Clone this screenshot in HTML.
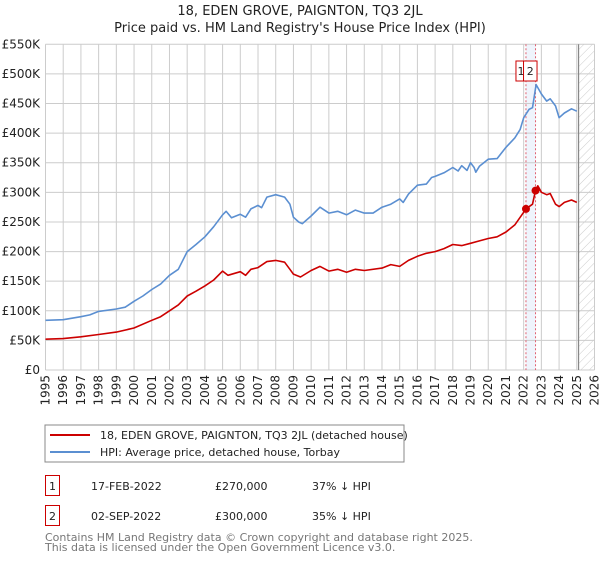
<!DOCTYPE html>
<html><head><meta charset="utf-8"><style>
body{margin:0;background:#fff;font-family:"Liberation Sans","DejaVu Sans",sans-serif;}
svg text{font-family:"DejaVu Sans","Liberation Sans",sans-serif;}
</style></head><body>
<svg id="c" width="600" height="560" viewBox="0 0 600 560" xmlns="http://www.w3.org/2000/svg">
<defs><pattern id="hatch" width="6" height="6" patternUnits="userSpaceOnUse" patternTransform="rotate(45)"><line x1="0" y1="0" x2="0" y2="6" stroke="#ccc" stroke-width="1"/></pattern></defs>
<text x="300" y="15" font-size="13" text-anchor="middle" fill="#222">18, EDEN GROVE, PAIGNTON, TQ3 2JL</text>
<text x="300" y="32" font-size="13" text-anchor="middle" fill="#222">Price paid vs. HM Land Registry's House Price Index (HPI)</text>
<g id="plot"></g>
<rect x="45" y="425" width="359" height="37" fill="#fff" stroke="#888"/>
<line x1="50" y1="435" x2="90" y2="435" stroke="#cc0000" stroke-width="2"/>
<text x="100" y="439" font-size="11" fill="#222">18, EDEN GROVE, PAIGNTON, TQ3 2JL (detached house)</text>
<line x1="50" y1="452" x2="90" y2="452" stroke="#5b8fd1" stroke-width="2"/>
<text x="100" y="456" font-size="11" fill="#222">HPI: Average price, detached house, Torbay</text>
<g font-size="11" fill="#222">
<rect x="45.5" y="475.5" width="14" height="20" fill="none" stroke="#cc0000"/>
<text x="52.5" y="490" text-anchor="middle">1</text>
<text x="91" y="490">17-FEB-2022</text>
<text x="215" y="490">£270,000</text>
<text x="312" y="490">37% ↓ HPI</text>
<rect x="45.5" y="505.5" width="14" height="20" fill="none" stroke="#cc0000"/>
<text x="52.5" y="520" text-anchor="middle">2</text>
<text x="91" y="520">02-SEP-2022</text>
<text x="215" y="520">£300,000</text>
<text x="312" y="520">35% ↓ HPI</text>
</g>
<text x="45" y="541" font-size="11" fill="#777">Contains HM Land Registry data © Crown copyright and database right 2025.</text>
<text x="45" y="551" font-size="11" fill="#777">This data is licensed under the Open Government Licence v3.0.</text>
</svg>
<script>
const hpiYears=[1995,1996,1997,1997.5,1998,1999,1999.5,2000,2000.5,2001,2001.5,2002,2002.5,2003,2003.5,2004,2004.5,2005,2005.2,2005.5,2006,2006.3,2006.6,2007,2007.2,2007.5,2008,2008.5,2008.8,2009,2009.3,2009.5,2010,2010.5,2011,2011.5,2012,2012.5,2013,2013.5,2014,2014.5,2015,2015.2,2015.5,2016,2016.5,2016.8,2017,2017.5,2018,2018.3,2018.5,2018.8,2019,2019.2,2019.3,2019.5,2020,2020.5,2021,2021.5,2021.8,2022,2022.3,2022.5,2022.7,2023,2023.3,2023.5,2023.8,2024,2024.3,2024.7,2025];
const hpiValues=[84,85,90,93,99,103,106,116,125,136,145,160,170,200,212,225,242,262,268,257,263,258,272,278,274,292,296,292,280,258,250,247,260,275,265,268,262,270,265,265,275,280,289,283,297,312,314,325,327,333,342,336,345,337,350,342,334,344,356,357,376,392,406,426,440,443,482,466,454,458,446,426,434,441,437];
const ppYears=[1995,1996,1997,1998,1999,2000,2001,2001.5,2002,2002.5,2003,2003.5,2004,2004.5,2005,2005.3,2006,2006.3,2006.6,2007,2007.5,2008,2008.5,2008.8,2009,2009.4,2010,2010.5,2011,2011.5,2012,2012.5,2013,2014,2014.5,2015,2015.5,2016,2016.5,2017,2017.5,2018,2018.5,2019,2019.5,2020,2020.5,2021,2021.5,2022.13,2022.5,2022.67,2022.8,2023,2023.3,2023.5,2023.8,2024,2024.3,2024.7,2025];
const ppValues=[52,53,56,60,64,71,84,90,100,110,125,133,142,152,167,160,166,160,170,173,183,185,182,170,162,157,168,175,167,170,165,170,168,172,178,175,185,192,197,200,205,212,210,214,218,222,225,233,245,272,280,303,311,300,296,298,280,276,283,287,283];
const saleYears=[2022.13,2022.67];
const saleValues=[272,303];
const saleLabels=["1","2"];
const yTicks=[0,50,100,150,200,250,300,350,400,450,500,550];
const yTickLabels=["£0","£50K","£100K","£150K","£200K","£250K","£300K","£350K","£400K","£450K","£500K","£550K"];
const xTicks=[1995,1996,1997,1998,1999,2000,2001,2002,2003,2004,2005,2006,2007,2008,2009,2010,2011,2012,2013,2014,2015,2016,2017,2018,2019,2020,2021,2022,2023,2024,2025,2026];

const X0=45.5,X1=594.5,Y0=370,Y1=44.3;
const xs=y=>X0+(y-1995)/(2026-1995)*(X1-X0);
const ys=v=>Y0-v/550*(Y0-Y1);
const NS="http://www.w3.org/2000/svg";
const g=document.getElementById('plot');
function mk(t,a){const e=document.createElementNS(NS,t);for(const k in a)e.setAttribute(k,a[k]);g.appendChild(e);return e;}
let e=mk('rect',{x:xs(saleYears[0]),y:Y1,width:xs(saleYears[1])-xs(saleYears[0]),height:Y0-Y1,fill:'#e8f0fb',opacity:0.7});


e=mk('rect',{x:xs(2025.1),y:Y1,width:X1-xs(2025.1),height:Y0-Y1,fill:'url(#hatch)'});


yTicks.forEach((v,i)=>{
 let l=mk('line',{x1:X0,x2:X1,y1:ys(v),y2:ys(v),stroke:'#ccc'});
 
 
 let t=mk('text',{x:40,y:ys(v)+4,'font-size':12,'text-anchor':'end',fill:'#222'});t.textContent=yTickLabels[i];
 
 
});
xTicks.forEach(y=>{
 let l=mk('line',{x1:xs(y),x2:xs(y),y1:Y1,y2:Y0,stroke:'#ccc'});
 
 
 let t=mk('text',{x:0,y:0,'font-size':12,'text-anchor':'end',fill:'#222',transform:`translate(${xs(y)+4},375) rotate(-90)`});t.textContent=y;
 
 
});
e=mk('line',{x1:xs(2025.1),x2:xs(2025.1),y1:Y1,y2:Y0,stroke:'#888','stroke-width':1.2});


saleYears.forEach(y=>{
 let l=mk('line',{x1:xs(y),x2:xs(y),y1:Y1,y2:Y0,stroke:'#e06070','stroke-dasharray':'2,2'});
 
 
});
function path(xa,va,c,name){
 const d=xa.map((y,i)=>(i?'L':'M')+xs(y).toFixed(1)+','+ys(va[i]).toFixed(1)).join('');
 const p=mk('path',{d:d,fill:'none',stroke:c,'stroke-width':1.6,'stroke-linejoin':'round'});
 
 
}
path(hpiYears,hpiValues,'#5b8fd1','hpi-line');
path(ppYears,ppValues,'#cc0000','price-paid-line');
saleYears.forEach((y,i)=>{
 let c=mk('circle',{cx:xs(y),cy:ys(saleValues[i]),r:4,fill:'#cc0000'});
 
 
 const bx=i==0?xs(y)-10:xs(y)-12;
 let r=mk('rect',{x:bx,y:61,width:i==0?10:13.5,height:20,fill:'#fff',stroke:'#cc0000'});
 
 
 let t=mk('text',{x:bx+(i==0?5:6.7),y:75,'font-size':11,'text-anchor':'middle',fill:'#222'});t.textContent=saleLabels[i];
 
 
});
</script>
</body></html>
